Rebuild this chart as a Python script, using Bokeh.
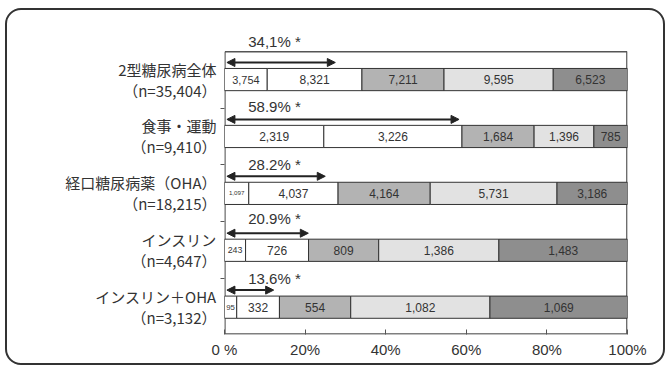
import numpy as np
from bokeh.plotting import figure
from bokeh.models import (ColumnDataSource, Range1d, FixedTicker, Arrow, NormalHead,
                          InlineStyleSheet)
from bokeh.core.properties import value
from bokeh.embed import file_html
from bokeh.resources import INLINE

# ---- data ----
categories = ["2型糖尿病全体", "食事・運動", "経口糖尿病薬（OHA）", "インスリン", "インスリン＋OHA"]
n_labels = ["（n=35,404）", "（n=9,410）", "（n=18,215）", "（n=4,647）", "（n=3,132）"]
seg1 = [3754, 2319, 1097, 243, 95]
seg2 = [8321, 3226, 4037, 726, 332]
seg3 = [7211, 1684, 4164, 809, 554]
seg4 = [9595, 1396, 5731, 1386, 1082]
seg5 = [6523, 785, 3186, 1483, 1069]
pct_labels = ["34,1% *", "58.9% *", "28.2% *", "20.9% *", "13.6% *"]
arrow_end = [27.5, 58.2, 25.0, 20.8, 12.2]   # arrow tips as drawn (% of axis)
x_ticks = [0, 20, 40, 60, 80, 100]
x_tick_labels = ["0 %", "20%", "40%", "60%", "80%", "100%"]

# ---- styles ----
seg_colors = ["#ffffff", "#ffffff", "#b3b3b3", "#e2e2e2", "#8e8e8e"]
FONT_LATIN = "Liberation Sans"
FONT_CJK = "Noto Sans CJK JP"
FRAME_W = 403

segs = np.array([seg1, seg2, seg3, seg4, seg5], dtype=float).T  # rows = categories
totals = segs.sum(axis=1, keepdims=True)
pct = segs / totals * 100
rights = np.cumsum(pct, axis=1)
lefts = rights - pct

ys, ls, rs, cs, txt, tx, fs = [], [], [], [], [], [], []
for i in range(len(categories)):
    for j in range(5):
        ys.append(i)
        ls.append(lefts[i, j])
        rs.append(rights[i, j])
        cs.append(seg_colors[j])
        s = f"{int(segs[i, j]):,}"
        txt.append(s)
        tx.append((lefts[i, j] + rights[i, j]) / 2)
        w_px = pct[i, j] / 100 * FRAME_W
        size = min(12.0, 0.7 * w_px / (0.55 * len(s)))
        fs.append(f"{size:.1f}px")

src = ColumnDataSource(dict(y=ys, left=ls, right=rs, color=cs, text=txt, tx=tx, fs=fs))

css = InlineStyleSheet(css="""
:host { position: relative; }
:host::after {
  content: ''; position: absolute; left: 5px; top: 8px; width: 660px; height: 357px;
  border: 2px solid #333333; border-radius: 16px; box-sizing: border-box;
  pointer-events: none;
}
""")

p = figure(width=670, height=371, output_backend="svg", toolbar_location=None,
           x_range=Range1d(0, 100), y_range=Range1d(4.48, -0.95),
           min_border_left=224, min_border_right=43, min_border_top=25,
           min_border_bottom=37)
p.stylesheets = [css]
p.outline_line_color = None
p.background_fill_color = "white"
p.border_fill_color = "white"
p.xgrid.visible = False
p.ygrid.visible = False

# frame box
top_y, bot_y = -0.49, 4.48
p.multi_line(xs=[[0.1, 99.85, 99.85, 0.1, 0.1]], ys=[[top_y, top_y, bot_y - 0.01, bot_y - 0.01, top_y]],
             line_color="#555555", line_width=1.5)

p.hbar(y="y", left="left", right="right", height=0.39, fill_color="color",
       line_color="#333333", line_width=1, source=src)
p.text(x="tx", y="y", text="text", text_font_size="fs", text_align="center",
       text_baseline="middle", text_color="#333333", text_font=value(FONT_LATIN),
       source=src)

# arrows + percent labels
lab_dy = [-0.67, -0.53, -0.5, -0.55, -0.5]
for i in range(len(categories)):
    p.add_layout(Arrow(x_start=0.6, x_end=arrow_end[i], y_start=i - 0.3, y_end=i - 0.3,
                       line_color="#222222", line_width=2,
                       start=NormalHead(size=8, fill_color="#222222", line_color="#222222"),
                       end=NormalHead(size=8, fill_color="#222222", line_color="#222222")))
p.text(x=[12.4] * len(categories), y=[i + d for i, d in enumerate(lab_dy)], text=pct_labels,
       text_font_size="15px", text_align="center", text_baseline="middle",
       text_color="#333333", text_font=value(FONT_LATIN))

# x axis
xa = p.xaxis[0]
xa.ticker = FixedTicker(ticks=x_ticks)
xa.major_label_overrides = {t: l for t, l in zip(x_ticks, x_tick_labels)}
xa.major_tick_in = 5
xa.major_tick_out = 0
xa.minor_tick_line_color = None
xa.axis_line_color = None
xa.major_tick_line_color = "#555555"
xa.major_label_text_font = FONT_LATIN
xa.major_label_text_font_size = "15px"
xa.major_label_text_color = "#333333"
xa.major_label_standoff = 6

# y axis
ya = p.yaxis[0]
ya.ticker = FixedTicker(ticks=list(range(len(categories))),
                        minor_ticks=[0.5, 1.5, 2.5, 3.5])
ya.major_label_overrides = {i: f"{c}\n{n}" for i, (c, n) in enumerate(zip(categories, n_labels))}
ya.axis_line_color = None
ya.major_tick_line_color = None
ya.major_tick_out = 0
ya.major_tick_in = 0
ya.minor_tick_in = 0
ya.minor_tick_out = 4
ya.minor_tick_line_color = "#555555"
ya.major_label_text_font = FONT_CJK
ya.major_label_text_font_size = "15px"
ya.major_label_text_color = "#333333"
ya.major_label_text_line_height = 1.0
ya.major_label_standoff = 4

open("out.html", "w").write(file_html(p, INLINE))
